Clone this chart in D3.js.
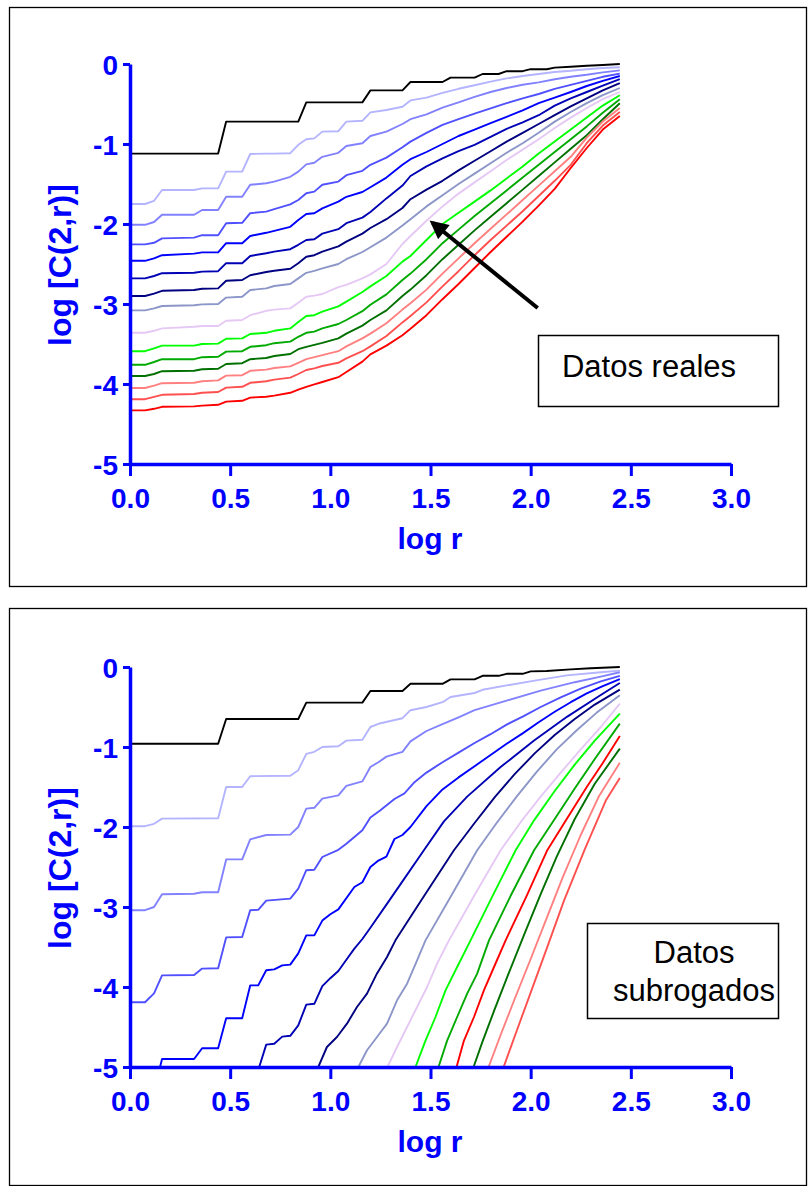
<!DOCTYPE html>
<html>
<head>
<meta charset="utf-8">
<script src="https://cdn.jsdelivr.net/npm/d3@7"></script>
<style>
  body { margin: 0; background: #fff; }
</style>
</head>
<body>
<div id="chart"></div>
<script>
// axis ticks
const xTicks = [0, 0.5, 1, 1.5, 2, 2.5, 3];
const xTickLabels = ['0.0', '0.5', '1.0', '1.5', '2.0', '2.5', '3.0'];
const yTicks = [0, -1, -2, -3, -4, -5];
const yTickLabels = ['0', '-1', '-2', '-3', '-4', '-5'];

// line colours
const cBlack = '#000000';
const cPale = '#b4b4ff';
const cLight = '#8282ff';
const cMid = '#5050ff';
const cBlue = '#0000ff';
const cDark = '#0000b4';
const cNavy = '#000080';
const cSlate = '#8c96c8';
const cLilac = '#e6c8f5';
const cLime = '#00ff00';
const cGreen = '#00aa00';
const cForest = '#007000';
const cSalmon = '#ff8080';
const cCoral = '#ff5050';
const cRed = '#ff0000';

// ---- top panel: real data ----
const topBlack = [[0,-1.12],[0.44,-1.12],[0.48,-0.72],[0.84,-0.72],[0.88,-0.48],[1.16,-0.48],[1.20,-0.33],[1.36,-0.33],[1.40,-0.225],[1.56,-0.225],[1.60,-0.17],[1.72,-0.17],[1.76,-0.125],[1.84,-0.125],[1.88,-0.09],[1.96,-0.09],[2.00,-0.065],[2.08,-0.065],[2.12,-0.045],[2.20,-0.035],[2.28,-0.022],[2.36,-0.012],[2.445,0]];

// shared log r values of the coloured curves
const topLogR = [0, 0.075, 0.12, 0.16, 0.32, 0.36, 0.44, 0.48, 0.56, 0.60, 0.68, 0.72, 0.80, 0.84, 0.88, 0.92, 0.96, 1.04, 1.08, 1.16, 1.20, 1.28, 1.36, 1.40, 1.48, 1.56, 1.64, 1.72, 1.80, 1.88, 1.96, 2.04, 2.12, 2.20, 2.28, 2.36, 2.445];

const topPale = [-1.75,-1.75,-1.71,-1.575,-1.575,-1.555,-1.555,-1.345,-1.345,-1.125,-1.12,-1.12,-1.115,-1.01,-0.94,-0.93,-0.845,-0.84,-0.72,-0.71,-0.605,-0.575,-0.535,-0.455,-0.42,-0.36,-0.31,-0.265,-0.22,-0.18,-0.15,-0.125,-0.10,-0.085,-0.065,-0.05,-0.04];
const topLight = [-2.01,-2.01,-1.975,-1.885,-1.885,-1.825,-1.825,-1.66,-1.66,-1.51,-1.49,-1.47,-1.41,-1.345,-1.255,-1.235,-1.16,-1.11,-1.025,-0.99,-0.90,-0.845,-0.75,-0.69,-0.63,-0.545,-0.48,-0.41,-0.35,-0.30,-0.26,-0.23,-0.19,-0.16,-0.135,-0.105,-0.08];
const topMid = [-2.255,-2.255,-2.235,-2.18,-2.17,-2.14,-2.14,-1.99,-1.985,-1.865,-1.845,-1.815,-1.755,-1.70,-1.615,-1.595,-1.51,-1.47,-1.39,-1.335,-1.26,-1.17,-1.04,-0.97,-0.86,-0.76,-0.69,-0.62,-0.555,-0.49,-0.43,-0.375,-0.31,-0.26,-0.21,-0.16,-0.12];
const topBlue = [-2.46,-2.46,-2.43,-2.39,-2.37,-2.355,-2.355,-2.24,-2.24,-2.15,-2.11,-2.085,-2.035,-1.95,-1.875,-1.865,-1.805,-1.72,-1.66,-1.60,-1.54,-1.42,-1.26,-1.19,-1.10,-1.0,-0.90,-0.82,-0.74,-0.66,-0.58,-0.49,-0.42,-0.35,-0.275,-0.21,-0.15];
const topDark = [-2.68,-2.68,-2.65,-2.615,-2.61,-2.595,-2.59,-2.49,-2.49,-2.40,-2.365,-2.345,-2.315,-2.26,-2.20,-2.19,-2.12,-2.065,-1.99,-1.92,-1.85,-1.68,-1.52,-1.40,-1.28,-1.18,-1.09,-1.01,-0.91,-0.81,-0.73,-0.64,-0.52,-0.43,-0.35,-0.27,-0.19];
const topNavy = [-2.90,-2.90,-2.87,-2.835,-2.825,-2.81,-2.805,-2.71,-2.70,-2.64,-2.60,-2.585,-2.56,-2.49,-2.41,-2.39,-2.345,-2.28,-2.22,-2.12,-2.05,-1.94,-1.80,-1.69,-1.57,-1.46,-1.33,-1.21,-1.09,-0.97,-0.86,-0.75,-0.64,-0.53,-0.43,-0.33,-0.24];
const topSlate = [-3.08,-3.08,-3.055,-3.025,-3.015,-3.005,-3.0,-2.92,-2.91,-2.825,-2.805,-2.775,-2.75,-2.68,-2.61,-2.585,-2.555,-2.50,-2.44,-2.35,-2.29,-2.17,-2.02,-1.94,-1.78,-1.64,-1.50,-1.37,-1.24,-1.11,-0.99,-0.86,-0.72,-0.60,-0.49,-0.39,-0.30];
const topLilac = [-3.36,-3.36,-3.335,-3.305,-3.285,-3.275,-3.275,-3.21,-3.20,-3.14,-3.085,-3.07,-3.055,-2.985,-2.91,-2.895,-2.875,-2.79,-2.76,-2.68,-2.63,-2.50,-2.25,-2.15,-1.96,-1.78,-1.62,-1.48,-1.34,-1.20,-1.07,-0.94,-0.80,-0.67,-0.55,-0.44,-0.35];
const topLime = [-3.59,-3.59,-3.555,-3.52,-3.52,-3.50,-3.495,-3.435,-3.43,-3.375,-3.36,-3.335,-3.305,-3.225,-3.15,-3.14,-3.095,-3.03,-2.97,-2.85,-2.78,-2.65,-2.47,-2.40,-2.20,-2.00,-1.86,-1.72,-1.58,-1.43,-1.28,-1.12,-0.97,-0.82,-0.67,-0.52,-0.39];
const topGreen = [-3.76,-3.76,-3.725,-3.69,-3.69,-3.665,-3.66,-3.595,-3.59,-3.535,-3.515,-3.49,-3.47,-3.41,-3.36,-3.345,-3.305,-3.25,-3.20,-3.09,-3.01,-2.88,-2.70,-2.62,-2.44,-2.24,-2.07,-1.90,-1.74,-1.58,-1.42,-1.26,-1.10,-0.94,-0.78,-0.61,-0.44];
const topForest = [-3.90,-3.90,-3.875,-3.84,-3.835,-3.815,-3.81,-3.75,-3.74,-3.69,-3.675,-3.65,-3.625,-3.565,-3.535,-3.51,-3.485,-3.43,-3.37,-3.27,-3.20,-3.08,-2.90,-2.82,-2.64,-2.44,-2.26,-2.08,-1.91,-1.74,-1.57,-1.40,-1.23,-1.06,-0.89,-0.69,-0.49];
const topSalmon = [-4.05,-4.05,-4.02,-3.99,-3.985,-3.965,-3.955,-3.895,-3.89,-3.835,-3.82,-3.80,-3.78,-3.735,-3.69,-3.665,-3.64,-3.59,-3.53,-3.43,-3.37,-3.24,-3.07,-2.99,-2.82,-2.62,-2.43,-2.24,-2.06,-1.88,-1.70,-1.52,-1.34,-1.16,-0.92,-0.72,-0.55];
const topCoral = [-4.19,-4.19,-4.16,-4.135,-4.125,-4.11,-4.10,-4.045,-4.035,-3.985,-3.965,-3.945,-3.92,-3.875,-3.825,-3.805,-3.775,-3.735,-3.68,-3.59,-3.53,-3.40,-3.23,-3.15,-2.98,-2.78,-2.59,-2.39,-2.20,-2.02,-1.84,-1.65,-1.46,-1.26,-0.99,-0.77,-0.60];
const topRed = [-4.33,-4.33,-4.31,-4.285,-4.28,-4.27,-4.26,-4.22,-4.21,-4.17,-4.16,-4.145,-4.11,-4.07,-4.035,-4.005,-3.975,-3.915,-3.85,-3.72,-3.63,-3.52,-3.39,-3.31,-3.14,-2.94,-2.75,-2.55,-2.35,-2.16,-1.97,-1.77,-1.56,-1.30,-1.05,-0.82,-0.65];

// ---- bottom panel: surrogate data, [log r, log C] ----
const botBlack = [[0,-0.96],[0.44,-0.96],[0.48,-0.65],[0.84,-0.65],[0.88,-0.445],[1.16,-0.445],[1.20,-0.30],[1.36,-0.30],[1.40,-0.21],[1.56,-0.21],[1.60,-0.155],[1.72,-0.155],[1.76,-0.11],[1.84,-0.11],[1.88,-0.085],[1.96,-0.085],[2.00,-0.055],[2.08,-0.05],[2.20,-0.03],[2.30,-0.015],[2.445,0]];
const botPale = [[0,-1.99],[0.075,-1.99],[0.12,-1.96],[0.16,-1.895],[0.44,-1.89],[0.48,-1.50],[0.56,-1.50],[0.60,-1.365],[0.80,-1.36],[0.84,-1.29],[0.88,-1.085],[0.92,-1.06],[0.96,-1.0],[1.04,-0.99],[1.08,-0.92],[1.16,-0.91],[1.20,-0.75],[1.24,-0.71],[1.36,-0.64],[1.40,-0.54],[1.48,-0.50],[1.56,-0.44],[1.60,-0.375],[1.72,-0.325],[1.76,-0.285],[1.88,-0.23],[2.02,-0.17],[2.18,-0.105],[2.35,-0.065],[2.445,-0.045]];
const botLight = [[0,-3.04],[0.075,-3.04],[0.12,-3.0],[0.16,-2.84],[0.32,-2.835],[0.36,-2.815],[0.44,-2.815],[0.48,-2.405],[0.56,-2.405],[0.60,-2.155],[0.68,-2.10],[0.80,-2.095],[0.84,-2.0],[0.88,-1.77],[0.92,-1.76],[0.96,-1.645],[1.04,-1.605],[1.08,-1.485],[1.16,-1.43],[1.20,-1.25],[1.24,-1.19],[1.28,-1.12],[1.36,-1.06],[1.40,-0.93],[1.48,-0.80],[1.56,-0.715],[1.64,-0.63],[1.72,-0.54],[1.88,-0.42],[2.05,-0.295],[2.22,-0.19],[2.35,-0.12],[2.445,-0.065]];
const botMid = [[0,-4.19],[0.075,-4.19],[0.12,-4.08],[0.16,-3.855],[0.32,-3.85],[0.36,-3.77],[0.44,-3.765],[0.48,-3.38],[0.56,-3.375],[0.60,-3.04],[0.64,-3.035],[0.68,-2.92],[0.80,-2.895],[0.84,-2.77],[0.88,-2.54],[0.92,-2.535],[0.96,-2.375],[1.04,-2.285],[1.08,-2.21],[1.16,-2.04],[1.20,-1.88],[1.25,-1.79],[1.32,-1.65],[1.37,-1.58],[1.42,-1.44],[1.48,-1.32],[1.56,-1.19],[1.64,-1.07],[1.72,-0.95],[1.80,-0.84],[1.88,-0.72],[1.96,-0.62],[2.05,-0.50],[2.15,-0.38],[2.25,-0.27],[2.35,-0.18],[2.445,-0.11]];
const botBlue = [[0.15,-5.0],[0.16,-4.90],[0.32,-4.90],[0.36,-4.765],[0.44,-4.765],[0.48,-4.39],[0.56,-4.39],[0.60,-3.98],[0.64,-3.98],[0.68,-3.79],[0.72,-3.78],[0.76,-3.73],[0.80,-3.72],[0.84,-3.58],[0.88,-3.355],[0.92,-3.355],[0.96,-3.17],[1.0,-3.09],[1.04,-3.03],[1.12,-2.75],[1.16,-2.69],[1.20,-2.50],[1.24,-2.42],[1.28,-2.37],[1.32,-2.15],[1.36,-2.10],[1.40,-2.0],[1.48,-1.74],[1.56,-1.53],[1.64,-1.38],[1.72,-1.24],[1.80,-1.10],[1.88,-0.96],[1.96,-0.83],[2.04,-0.69],[2.12,-0.56],[2.20,-0.44],[2.28,-0.33],[2.36,-0.24],[2.445,-0.15]];
const botDark = [[0.645,-5.0],[0.68,-4.72],[0.72,-4.71],[0.76,-4.62],[0.80,-4.61],[0.84,-4.48],[0.88,-4.22],[0.92,-4.21],[0.96,-3.99],[1.0,-3.89],[1.04,-3.80],[1.08,-3.66],[1.12,-3.52],[1.16,-3.40],[1.20,-3.26],[1.28,-2.97],[1.36,-2.68],[1.467,-2.29],[1.567,-1.93],[1.683,-1.62],[1.85,-1.25],[2.017,-0.92],[2.183,-0.62],[2.35,-0.35],[2.445,-0.20]];
const botNavy = [[0.94,-5.0],[0.983,-4.75],[1.033,-4.625],[1.083,-4.458],[1.133,-4.25],[1.183,-4.083],[1.233,-3.83],[1.283,-3.625],[1.325,-3.417],[1.45,-2.93],[1.617,-2.29],[1.72,-1.95],[1.82,-1.63],[1.92,-1.34],[2.02,-1.08],[2.12,-0.85],[2.22,-0.65],[2.32,-0.47],[2.445,-0.283]];
const botSlate = [[1.14,-5.0],[1.183,-4.79],[1.233,-4.625],[1.283,-4.458],[1.333,-4.167],[1.383,-3.958],[1.433,-3.667],[1.475,-3.417],[1.592,-2.91],[1.733,-2.29],[1.83,-1.95],[1.93,-1.62],[2.03,-1.31],[2.13,-1.03],[2.23,-0.79],[2.33,-0.57],[2.445,-0.354]];
const botLilac = [[1.285,-5.0],[1.333,-4.75],[1.383,-4.5],[1.433,-4.25],[1.483,-4.0],[1.533,-3.708],[1.592,-3.417],[1.72,-2.85],[1.85,-2.29],[1.95,-1.94],[2.05,-1.62],[2.15,-1.32],[2.25,-1.03],[2.35,-0.75],[2.445,-0.458]];
const botLime = [[1.425,-5.0],[1.475,-4.67],[1.525,-4.375],[1.575,-4.042],[1.633,-3.75],[1.7,-3.417],[1.81,-2.86],[1.925,-2.29],[2.017,-1.917],[2.12,-1.55],[2.22,-1.22],[2.32,-0.92],[2.445,-0.583]];
const botGreen = [[1.54,-5.0],[1.583,-4.67],[1.633,-4.375],[1.683,-4.083],[1.733,-3.833],[1.792,-3.417],[1.90,-2.86],[2.017,-2.29],[2.12,-1.90],[2.22,-1.52],[2.32,-1.15],[2.445,-0.708]];
const botRed = [[1.63,-5.0],[1.667,-4.67],[1.717,-4.375],[1.767,-4.04],[1.817,-3.75],[1.875,-3.417],[1.98,-2.86],[2.083,-2.29],[2.18,-1.90],[2.28,-1.50],[2.36,-1.20],[2.445,-0.8625]];
const botForest = [[1.715,-5.0],[1.76,-4.68],[1.82,-4.28],[1.89,-3.83],[1.97,-3.33],[2.05,-2.84],[2.13,-2.37],[2.22,-1.90],[2.32,-1.46],[2.445,-1.02]];
const botSalmon = [[1.79,-5.0],[1.85,-4.60],[1.92,-4.15],[2.0,-3.65],[2.08,-3.14],[2.16,-2.63],[2.25,-2.10],[2.34,-1.62],[2.445,-1.196]];
const botCoral = [[1.865,-5.0],[1.93,-4.55],[2.0,-4.07],[2.08,-3.52],[2.165,-2.93],[2.27,-2.28],[2.375,-1.67],[2.445,-1.388]];

// zip shared grid with a y array
const onGrid = ys => ys.map((v, i) => [topLogR[i], v]);

const topSeries = [
  [topBlack, cBlack], [onGrid(topPale), cPale], [onGrid(topLight), cLight], [onGrid(topMid), cMid],
  [onGrid(topBlue), cBlue], [onGrid(topDark), cDark], [onGrid(topNavy), cNavy], [onGrid(topSlate), cSlate],
  [onGrid(topLilac), cLilac], [onGrid(topLime), cLime], [onGrid(topGreen), cGreen], [onGrid(topForest), cForest],
  [onGrid(topSalmon), cSalmon], [onGrid(topCoral), cCoral], [onGrid(topRed), cRed]
];
const botSeries = [
  [botBlack, cBlack], [botPale, cPale], [botLight, cLight], [botMid, cMid], [botBlue, cBlue],
  [botDark, cDark], [botNavy, cNavy], [botSlate, cSlate], [botLilac, cLilac], [botLime, cLime],
  [botGreen, cGreen], [botRed, cRed], [botForest, cForest], [botSalmon, cSalmon], [botCoral, cCoral]
];

const width = 811, height = 1186;
const axisBlue = '#0000ff';
const font = '"Liberation Sans", Arial, Helvetica, sans-serif';

const svg = d3.select('#chart')
  .append('svg')
  .attr('width', width)
  .attr('height', height)
  .style('font-family', font);

svg.append('rect').attr('width', width).attr('height', height).attr('fill', '#fff');

function drawPanel(frameTop, frameHeight, y0, series, id) {
  // outer frame
  svg.append('rect')
    .attr('x', 9.5).attr('y', frameTop + 0.5)
    .attr('width', 797).attr('height', frameHeight)
    .attr('fill', 'none').attr('stroke', '#000').attr('stroke-width', 1.3);

  const x = d3.scaleLinear().domain([0, 3]).range([130, 731]);
  const y = d3.scaleLinear().domain([-5, 0]).range([y0 + 400, y0]);

  svg.append('clipPath').attr('id', 'clip' + id)
    .append('rect').attr('x', 130).attr('y', y0 - 5).attr('width', 601).attr('height', 405);

  const line = d3.line().x(d => x(d[0])).y(d => y(d[1]));

  svg.append('g')
    .attr('clip-path', `url(#clip${id})`)
    .selectAll('path')
    .data(series)
    .join('path')
    .attr('d', d => line(d[0]))
    .attr('fill', 'none')
    .attr('stroke', d => d[1])
    .attr('stroke-width', 1.9)
    .attr('stroke-linejoin', 'round');

  // x axis
  const gx = svg.append('g')
    .attr('transform', `translate(0,${y0 + 400})`)
    .call(d3.axisBottom(x).tickValues(xTicks).tickFormat((d, i) => xTickLabels[i]).tickSize(12).tickSizeOuter(0));
  // y axis
  const gy = svg.append('g')
    .attr('transform', 'translate(130,0)')
    .call(d3.axisLeft(y).tickValues(yTicks).tickFormat((d, i) => yTickLabels[i]).tickSize(7).tickSizeOuter(0).tickPadding(5));

  [gx, gy].forEach(g => {
    g.select('.domain').attr('stroke', axisBlue).attr('stroke-width', 3.5);
    g.selectAll('.tick line').attr('stroke', axisBlue).attr('stroke-width', 3);
    g.selectAll('.tick text')
      .attr('fill', axisBlue)
      .style('font-size', '28px')
      .style('font-weight', 'bold')
      .style('font-family', font);
  });
  gx.selectAll('.tick text').attr('dy', null).attr('y', 44);
  gy.selectAll('.tick text').attr('dy', '0.36em');

  // axis titles
  svg.append('text')
    .attr('x', 430).attr('y', y0 + 485)
    .attr('text-anchor', 'middle')
    .attr('fill', axisBlue)
    .style('font-size', '30px').style('font-weight', 'bold')
    .text('log r');
  svg.append('text')
    .attr('transform', `translate(71,${y0 + 201}) rotate(-90)`)
    .attr('text-anchor', 'middle')
    .attr('fill', axisBlue)
    .style('font-size', '32px').style('font-weight', 'bold')
    .text('log [C(2,r)]');

  return { x, y };
}

const topPanel = drawPanel(7, 579, 64, topSeries, 'a');
const botPanel = drawPanel(608, 577, 667, botSeries, 'b');

// arrow pointing into the curve bundle
svg.append('defs').append('marker')
  .attr('id', 'head')
  .attr('viewBox', '0 0 10 10')
  .attr('refX', 8).attr('refY', 5)
  .attr('markerWidth', 5).attr('markerHeight', 4.6)
  .attr('orient', 'auto')
  .attr('markerUnits', 'strokeWidth')
  .append('path').attr('d', 'M0,0 L10,5 L0,10 z').attr('fill', '#000');

svg.append('line')
  .attr('x1', topPanel.x(2.035)).attr('y1', topPanel.y(-3.05))
  .attr('x2', topPanel.x(1.51)).attr('y2', topPanel.y(-1.985))
  .attr('stroke', '#000').attr('stroke-width', 4)
  .attr('marker-end', 'url(#head)');

// note boxes
svg.append('rect')
  .attr('x', 538.5).attr('y', 335.5).attr('width', 240).attr('height', 71)
  .attr('fill', '#fff').attr('stroke', '#000').attr('stroke-width', 1.5);
svg.append('text')
  .attr('x', 649).attr('y', 377)
  .attr('text-anchor', 'middle')
  .style('font-size', '31px')
  .text('Datos reales');

svg.append('rect')
  .attr('x', 587.5).attr('y', 923.5).attr('width', 191).attr('height', 95)
  .attr('fill', '#fff').attr('stroke', '#000').attr('stroke-width', 1.5);
svg.append('text')
  .attr('x', 694).attr('y', 963)
  .attr('text-anchor', 'middle')
  .style('font-size', '31px')
  .text('Datos');
svg.append('text')
  .attr('x', 694).attr('y', 1001)
  .attr('text-anchor', 'middle')
  .style('font-size', '31px')
  .text('subrogados');
</script>
</body>
</html>
